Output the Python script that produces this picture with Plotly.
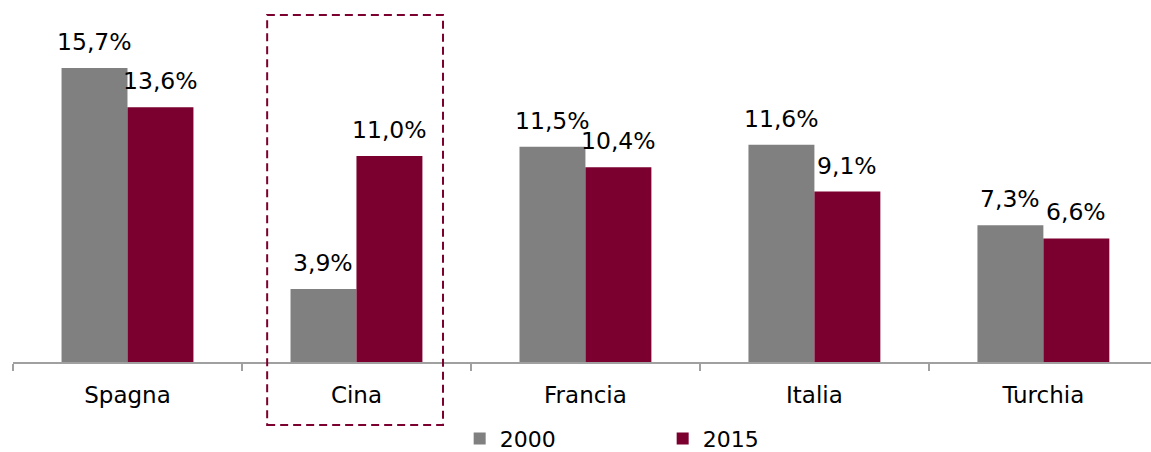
import plotly.graph_objects as go

categories = ["Spagna", "Cina", "Francia", "Italia", "Turchia"]
series_names = ["2000", "2015"]
values_2000 = [15.7, 3.9, 11.5, 11.6, 7.3]
values_2015 = [13.6, 11.0, 10.4, 9.1, 6.6]
colors = ["#808080", "#7B002F"]
highlight = "Cina"

FONT = "DejaVu Sans"
FS = 23
BARGAP = 0.424

def fmt(v):
    return f"{v:.1f}%".replace(".", ",")

fig = go.Figure()
for name, vals, col in zip(series_names, [values_2000, values_2015], colors):
    fig.add_trace(go.Bar(x=categories, y=vals, name=name, marker_color=col,
                         marker_line_width=0, hoverinfo="skip"))

# value labels above bars
half = (1 - BARGAP) / 2
for k, vals in enumerate([values_2000, values_2015]):
    off = -half / 2 if k == 0 else half / 2
    for i, v in enumerate(vals):
        fig.add_annotation(x=i + off, y=v, xref="x", yref="y", text=fmt(v),
                           showarrow=False, yanchor="bottom", yshift=10,
                           font=dict(family=FONT, size=23.5, color="#000000"))

# dashed highlight box around Cina
hi = categories.index(highlight)
fig.add_shape(type="rect", xref="x", yref="paper",
              x0=hi - 0.39, x1=hi + 0.378, y0=-0.174, y1=0.9586,
              line=dict(color="#7B002F", width=2, dash="8px,5px"),
              fillcolor="rgba(0,0,0,0)", layer="above")

fig.update_layout(
    width=1151, height=452,
    margin=dict(l=13, r=0, t=0, b=90, autoexpand=False),
    paper_bgcolor="white", plot_bgcolor="white",
    barmode="group", bargap=BARGAP, bargroupgap=0,
    font=dict(family=FONT, size=FS, color="#000000"),
    showlegend=True,
    legend=dict(orientation="h", x=0.3925, xanchor="left", y=-0.212, yanchor="middle",
                font=dict(family=FONT, size=22), entrywidth=158, entrywidthmode="pixels",
                traceorder="normal", bgcolor="rgba(0,0,0,0)"),
    xaxis=dict(range=[-0.5, 4.47], showline=True, linecolor="#A0A0A0", linewidth=1.5,
               ticks="outside", tickson="boundaries", ticklen=7, tickcolor="#A0A0A0",
               tickwidth=1.5, showgrid=False, tickfont=dict(family=FONT, size=FS),
               ticklabelstandoff=12, automargin=False, fixedrange=True),
    yaxis=dict(range=[0, 19.33], visible=False, showgrid=False, fixedrange=True,
               automargin=False),
)

fig.write_html("out.html", config={"displayModeBar": False},
               post_script="document.body.style.margin='0px';document.body.style.overflow='hidden';")
